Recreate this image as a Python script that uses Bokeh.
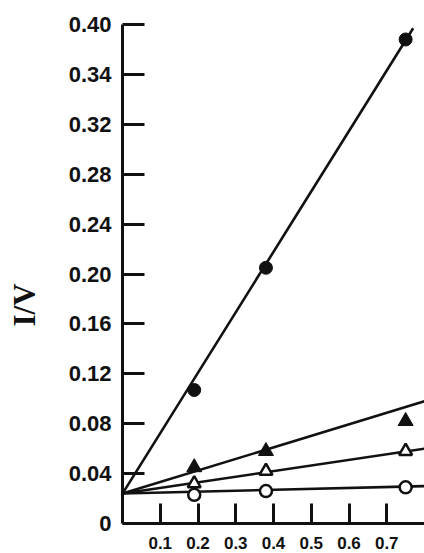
from bokeh.plotting import figure
from bokeh.models import FixedTicker, Range1d
from bokeh.embed import file_html
from bokeh.resources import INLINE

# ---- data ----
x_points = [0.19, 0.38, 0.75]
y_filled_circle = [0.107, 0.205, 0.388]
y_filled_triangle = [0.045, 0.058, 0.082]
y_open_triangle = [0.032, 0.042, 0.058]
y_open_circle = [0.023, 0.026, 0.029]

# fitted lines (start at y-axis, common intercept)
line_fc_x = [0.0, 0.77]
line_fc_y = [0.024, 0.397]
line_x = [0.0, 0.80]
line_ft_y = [0.024, 0.098]
line_ot_y = [0.024, 0.060]
line_oc_y = [0.024, 0.030]

x_ticks = [0.1, 0.2, 0.3, 0.4, 0.5, 0.6, 0.7]
x_tick_labels = ["0.1", "0.2", "0.3", "0.4", "0.5", "0.6", "0.7"]
y_ticks = [0.0, 0.04, 0.08, 0.12, 0.16, 0.20, 0.24, 0.28, 0.32, 0.36, 0.40]
y_tick_labels = ["0", "0.04", "0.08", "0.12", "0.16", "0.20", "0.24", "0.28", "0.32", "0.34", "0.40"]
y_axis_label = "I/V"

INK = "#111111"

p = figure(width=424, height=553, x_range=Range1d(0, 0.80), y_range=Range1d(0, 0.40),
           output_backend="svg", toolbar_location=None,
           min_border_left=122, min_border_right=0, min_border_top=24, min_border_bottom=30)
p.outline_line_color = None
p.xgrid.grid_line_color = None
p.ygrid.grid_line_color = None
p.background_fill_color = "white"
p.border_fill_color = "white"

# lines
for ly, lx in [(line_fc_y, line_fc_x), (line_ft_y, line_x), (line_ot_y, line_x), (line_oc_y, line_x)]:
    p.line(lx, ly, line_color=INK, line_width=2.6)

# markers
p.scatter(x_points, y_filled_circle, marker="circle", size=13, fill_color=INK, line_color=INK)
p.scatter(x_points, y_filled_triangle, marker="triangle", size=15, fill_color=INK, line_color=INK)
p.scatter(x_points, y_open_triangle, marker="triangle", size=13, fill_color="white", line_color=INK, line_width=2.5)
p.scatter(x_points, y_open_circle, marker="circle", size=12, fill_color="white", line_color=INK, line_width=2.5)

# x axis
xa = p.xaxis[0]
xa.ticker = FixedTicker(ticks=x_ticks)
xa.major_label_overrides = {t: l for t, l in zip(x_ticks, x_tick_labels)}
xa.major_tick_in = 20
xa.major_tick_out = 0
xa.minor_tick_line_color = None
xa.axis_line_width = 3
xa.major_tick_line_width = 3
xa.axis_line_color = INK
xa.major_tick_line_color = INK
xa.major_label_text_font = "Liberation Sans"
xa.major_label_text_font_style = "bold"
xa.major_label_text_font_size = "17px"
xa.major_label_text_color = INK
xa.major_label_standoff = 13

# y axis
ya = p.yaxis[0]
ya.ticker = FixedTicker(ticks=y_ticks)
ya.major_label_overrides = {t: l for t, l in zip(y_ticks, y_tick_labels)}
ya.major_tick_in = 22
ya.major_tick_out = 0
ya.minor_tick_line_color = None
ya.axis_line_width = 3
ya.major_tick_line_width = 3
ya.axis_line_color = INK
ya.major_tick_line_color = INK
ya.major_label_text_font = "Liberation Sans"
ya.major_label_text_font_style = "bold"
ya.major_label_text_font_size = "22px"
ya.major_label_text_color = INK
ya.major_label_standoff = 11
# trailing no-break spaces move the visible title below the axis centre, as in the reference
ya.axis_label = y_axis_label + "\u00a0" * 8
ya.axis_label_text_font = "Liberation Serif"
ya.axis_label_text_font_style = "bold"
ya.axis_label_text_font_size = "31px"
ya.axis_label_text_color = INK
ya.axis_label_standoff = 24

open("out.html", "w").write(file_html(p, INLINE))
